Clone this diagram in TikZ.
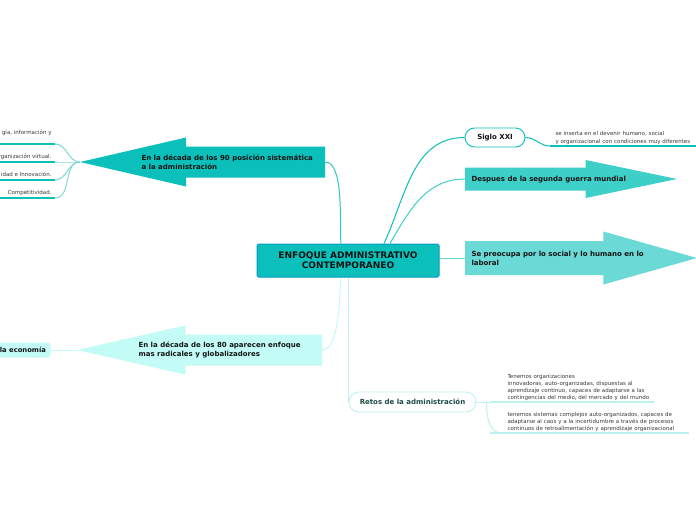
\documentclass[tikz,border=0pt]{standalone}
\usepackage{fontspec}
\setmainfont{DejaVu Sans}
\usetikzlibrary{shapes.arrows, backgrounds}
\definecolor{cteal}{HTML}{0BBFBA}
\definecolor{cmid}{HTML}{3FCFC9}
\definecolor{csoft}{HTML}{6BD9D5}
\definecolor{cpale}{HTML}{C3FCF7}
\definecolor{cedge}{HTML}{BDF1EE}
\definecolor{ctwig}{HTML}{7FDBD6}
\definecolor{cink}{HTML}{141414}
\definecolor{cgreyt}{HTML}{3A3A3A}
\definecolor{cdeep}{HTML}{1C4B43}
\tikzset{
  every picture/.style={x=1pt, y=1pt, line width=1pt},
  topic/.style={draw=cteal!80!blue, fill=cteal, rounded corners=1.5pt, minimum width=182pt, minimum height=33pt,
                align=center, font=\fontsize{9}{10}\selectfont\bfseries, text=cink},
  bigarrow/.style={single arrow, fill=#1, inner xsep=0pt, outer sep=0pt},
  lbl/.style={anchor=west, align=left, inner sep=0pt, font=\fontsize{7}{9}\selectfont\bfseries, text=cink},
  pill/.style={draw=#1, fill=white, rounded corners=9.5pt, minimum height=19pt, line width=0.9pt,
               font=\fontsize{7}{8}\selectfont\bfseries},
  leaf/.style={align=left, inner sep=0pt, font=\fontsize{5.5}{7}\selectfont, text=cgreyt},
  leafl/.style={leaf, anchor=south east, align=right, inner xsep=3pt, inner ysep=1.5pt, text depth=1.5pt},
  leafr/.style={leaf, anchor=south west, inner ysep=0.5pt},
  link/.style={draw=#1, line width=1pt},
  uline/.style={draw=#1, line width=1.3pt},
}
\begin{document}
\begin{tikzpicture}
  \useasboundingbox (0,0) rectangle (696,-520);
  \node[topic] (cen) at (348,-260.5) {ENFOQUE ADMINISTRATIVO\\CONTEMPORANEO};

  % left side
  \coordinate (lm) at (0,0);
  \node[bigarrow=cteal, shape border rotate=180, minimum height=245pt, minimum width=48pt, inner ysep=15pt,
        single arrow head extend=9pt, single arrow tip angle=26, anchor=tip] (a90) at (80,-162) {};
  \node[lbl] (a90t) at (141,-162) {En la década de los 90 posición sistemática\\a la administración};
  \node[leafl, text depth=7.5pt] (tic) at (55,-144) {gía, información y};
  \node[leafl] (virt) at (55,-162) {rganización virtual.};
  \node[leafl] (inno) at (55,-180) {idad e Innovación.};
  \node[leafl] (comp) at (55,-198) {Competitividad.};

  \node[bigarrow=cpale, shape border rotate=180, minimum height=245pt, minimum width=48pt, inner ysep=15pt,
        single arrow head extend=9pt, single arrow tip angle=25.5, anchor=tip] (a80) at (77,-350) {};
  \node[lbl] (a80t) at (138,-350) {En la década de los 80 aparecen enfoque\\mas radicales y globalizadores};
  \node[fill=cpale, rounded corners=3pt, anchor=east, inner xsep=4.5pt, minimum height=15pt,
        font=\fontsize{6.8}{8}\selectfont\bfseries, text=cink] (econ) at (51,-350) {la economía};

  % right side
  \node[pill=cteal, minimum width=60pt, text=cink] (siglo) at (495,-137.5) {Siglo XXI};
  \node[leafr, text width=141pt, font=\fontsize{5.5}{8}\selectfont] (sxx) at (555,-146) {se inserta en el devenir humano, social\\y organizacional con condiciones muy diferentes};

  \node[bigarrow=cmid, minimum height=212pt, minimum width=37pt, inner ysep=11pt,
        single arrow head extend=7.5pt, single arrow tip angle=23.5, anchor=tip] (a45) at (677,-179) {};
  \node[lbl] (a45t) at (471,-179.5) {Despues de la segunda guerra mundial};

  \node[bigarrow=csoft, minimum height=232pt, minimum width=52pt, inner ysep=16.5pt,
        single arrow head extend=9.5pt, single arrow tip angle=31.6, anchor=tip] (asoc) at (697,-258) {};
  \node[lbl, font=\fontsize{7}{8.5}\selectfont\bfseries] (asoct) at (471,-258.5) {Se preocupa por lo social y lo humano en lo\\laboral};

  \node[pill=cedge, minimum width=127pt, minimum height=20pt, rounded corners=10pt, text=cdeep] (retos) at (412.5,-402) {Retos de la administración};
  \node[leafr, text width=146pt] (ret1) at (507,-402) {Tenemos organizaciones\\innovadoras, auto-organizadas, dispuestas al\\aprendizaje continuo, capaces de adaptarse a las\\contingencias del medio, del mercado y del mundo};
  \node[leafr, text width=181pt] (ret2) at (507,-433) {tenemos sistemas complejos auto-organizados, capaces de\\adaptarse al caos y a la incertidumbre a través de procesos\\continuos de retroalimentación y aprendizaje organizacional};

  \begin{scope}[on background layer]
    \fill[white] (0,0) rectangle (696,-520);
    \draw[link=cteal!85] ([xshift=-7pt]cen.north) to[out=95,in=0,looseness=0.6] (a90.tail);
    \draw[link=cteal] ([xshift=36pt]cen.north) to[out=65,in=180] (siglo.west);
    \draw[link=cmid] ([xshift=42pt]cen.north) to[out=60,in=180] (a45.tail);
    \draw[link=csoft] (cen.east |- asoc.tail) -- (asoc.tail);
    \draw[link=cpale] ([xshift=-7pt]cen.south) to[out=-95,in=0,looseness=0.6] (a80.tail);
    \draw[link=cedge] (cen.south -| retos.west) -- (retos.west);
    \draw[link=cpale] (a80.tip) -- (econ.east);
    \foreach \n in {tic,virt,inno,comp} {
      \draw[link=ctwig] (a90.tip) to[out=180,in=0] (\n.south east);
      \draw[uline=cteal] (\n.south east -| lm) -- (\n.south east);
    }
    \draw[link=cteal] (siglo.east) to[out=0,in=180] ([xshift=-5pt]sxx.south west);
    \draw[uline=cteal] ([xshift=-5pt]sxx.south west) -- (sxx.south east);
    \draw[link=cedge] (retos.east) -- ([xshift=-17pt]ret1.south west);
    \draw[link=cedge] ([xshift=10pt]retos.east) to[out=-90,in=180] ([xshift=-5pt]ret2.south west);
    \draw[uline=cedge] ([xshift=-17pt]ret1.south west) -- (ret1.south east);
    \draw[uline=cedge] ([xshift=-17pt]ret2.south west) -- (ret2.south east);
  \end{scope}
\end{tikzpicture}
\end{document}
